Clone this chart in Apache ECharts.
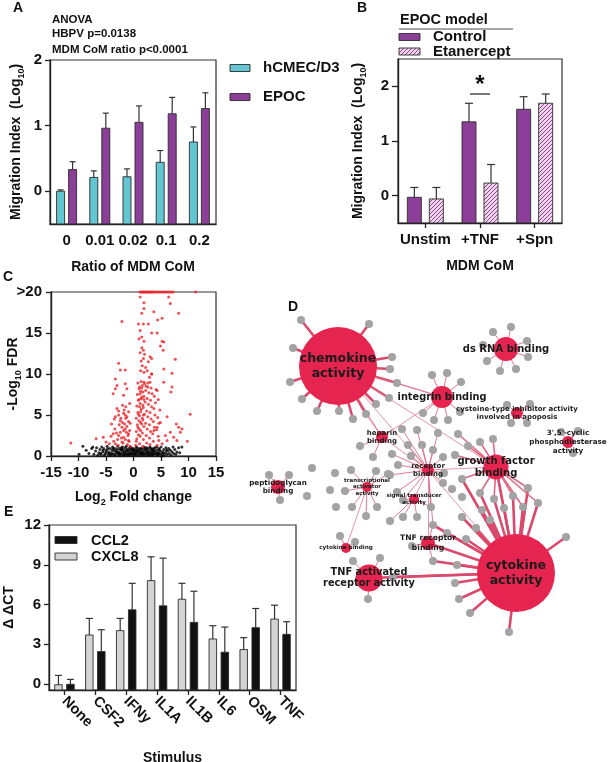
<!DOCTYPE html>
<html><head><meta charset="utf-8">
<script src="https://cdn.jsdelivr.net/npm/echarts@6/dist/echarts.min.js"></script>
<style>html,body{margin:0;padding:0;background:#fff}#c{width:610px;height:762px}</style>
</head><body><div id="c"></div><script>
// ---------- Panel A ----------
const catsA = ['0', '0.01', '0.02', '0.1', '0.2'];
const hcmecVals = [0.0, 0.21, 0.22, 0.44, 0.75];
const hcmecErr = [0.02, 0.10, 0.12, 0.18, 0.23];
const epocVals = [0.33, 0.96, 1.05, 1.18, 1.26];
const epocErr = [0.12, 0.23, 0.25, 0.25, 0.24];
// ---------- Panel B ----------
const catsB = ['Unstim', '+TNF', '+Spn'];
const ctrlVals = [-0.03, 1.35, 1.58];
const ctrlErr = [0.18, 0.34, 0.23];
const etaVals = [-0.06, 0.23, 1.69];
const etaErr = [0.21, 0.34, 0.17];
// ---------- Panel C (volcano) ----------
const redPts = [
[1.2,20],[1.4,20],[1.6,20],[1.8,20],[2.0,20],[2.2,20],[2.4,20],[2.6,20],[2.8,20],[3.0,20],[3.2,20],[3.4,20],[3.6,20],[3.9,20],[4.2,20],[4.5,20],[4.8,20],[5.1,20],[5.4,20],[5.7,20],[6.0,20],[6.3,20],[6.6,20],[6.9,20],[7.2,20],[11.3,20],
[1.2,19.4],[1.9,18.7],[1.9,18.0],[1.5,17.4],[3.7,17.6],[6.4,19.4],[6.7,18.6],[8.2,17.4],[-2.1,16.4],[0.9,16.1],[1.8,16.1],[2.7,16.1],[4.4,16.6],[5.2,16.8],[3.3,15.0],[4.3,15.0],[1.2,15.3],[1.5,14.5],[5.2,14.0],[5.5,13.9],[4.9,13.4],[5.4,12.9],[1.8,12.9],[3.0,12.1],[3.3,11.9],[7.6,11.8],[-2.7,11.3],[-2.4,10.5],[-1.5,10.5],[-3.3,9.4],[-3.0,8.6],[-3.3,8.2],[-3.7,7.6],[-1.5,8.8],[-1.2,8.2],[-1.8,7.4],[5.5,10.6],[7.0,10.1],[7.0,8.4],[6.8,7.8],[5.5,9.0],[4.3,8.0],[3.3,10.0],
[-3.0,5.8],[-2.7,5.5],[-1.8,5.2],[-1.5,5.0],[-1.2,4.8],[-3.3,4.8],[-2.4,4.3],[-4.0,3.9],[-2.1,3.5],[-1.5,3.3],[-3.7,2.7],[-2.7,2.5],[-1.8,2.3],[-0.9,2.7],[-5.5,2.3],[-6.8,2.1],[-11.4,1.6],[-0.9,1.9],[-2.1,1.7],[-3.3,1.5],[-0.6,4.0],[-0.9,5.4],[-0.7,6.4],
[-0.6,1.2],[-0.8,1.8],[-1.0,2.5],[-0.7,3.1],[-1.2,3.6],[-0.9,4.2],[-1.4,4.6],[-1.1,1.4],[-1.5,2.0],[-1.3,2.9],[-1.8,3.1],[-1.6,3.9],[-2.0,4.1],[-1.9,1.6],[-2.2,2.2],[-2.4,2.9],[-2.6,3.8],[-2.3,4.6],[-2.8,1.3],[-2.9,2.0],[-3.1,2.8],[-2.7,5.0],[-3.4,3.3],[-3.6,1.8],[-1.7,5.6],[-2.0,6.2],[-1.4,6.0],[-3.5,4.5],[-4.1,2.4],[-4.4,1.5],[-5.0,1.7],
[6.1,4.8],[7.8,3.9],[8.2,3.5],[8.5,2.9],[8.8,3.3],[6.7,2.9],[5.8,2.5],[7.3,2.3],[7.9,1.9],[9.8,1.8],[10.3,5.1],[4.9,4.1],[4.3,3.5],[3.7,3.1],[6.1,1.9],[5.2,1.5],[4.6,1.9],
[0.4,1.3],[0.6,2.1],[0.5,3.0],[0.7,3.8],[0.5,4.6],[0.8,5.3],[0.6,6.1],[0.9,6.8],[0.7,7.5],[1.0,8.2],[0.8,8.9],
[1.1,1.5],[1.2,2.4],[1.0,3.3],[1.3,4.1],[1.1,4.9],[1.4,5.7],[1.2,6.4],[1.5,7.2],[1.3,7.9],[1.6,8.6],[1.4,9.1],
[1.7,1.2],[1.8,2.0],[1.6,2.8],[1.9,3.6],[1.7,4.4],[2.0,5.1],[1.8,5.9],[2.1,6.6],[1.9,7.3],[2.2,8.0],[2.0,8.8],
[2.4,1.6],[2.3,2.5],[2.5,3.3],[2.2,4.0],[2.6,4.8],[2.4,5.5],[2.7,6.3],[2.5,7.0],[2.8,7.7],[2.6,8.4],
[3.0,1.4],[2.9,2.2],[3.1,3.0],[2.9,3.8],[3.2,4.5],[3.0,5.3],[3.3,6.0],[3.1,6.8],[3.4,7.6],[3.2,8.3],
[3.6,1.8],[3.5,2.7],[3.8,3.5],[3.6,4.2],[3.9,5.0],[3.7,5.8],[4.0,6.5],[3.8,7.3],[4.1,8.1],
[4.3,1.3],[4.5,2.4],[4.2,3.2],[4.6,4.0],[4.4,4.7],[4.8,5.6],[4.5,6.9],
[0.5,1.8],[0.9,2.6],[1.3,3.1],[0.8,3.5],[1.5,3.9],[1.0,4.3],[1.6,4.6],[0.9,5.1],[1.3,5.4],[1.8,5.0],[1.1,6.0],[1.7,6.2],[1.0,6.9],[1.4,7.0],[1.9,6.9],[1.2,7.6],[1.7,7.8],[1.1,8.4],[1.5,8.3],[2.3,8.5],[1.9,9.0],[2.6,8.9],[3.0,9.0],
[1.3,10.4],[1.6,11.0],[1.4,11.6],[1.9,10.2],[2.2,10.8],[1.8,11.9],[2.5,10.4],[2.9,9.6],[3.3,10.0],[1.2,12.6],[1.5,13.2],[2.0,12.4],[2.7,11.5],[1.0,14.3],[1.9,14.0]
];
const blackPts = [
[-9.9,0.2],[-9.2,1.2],[-8.6,0.7],[-8.1,0.3],[-7.6,0.9],[-7.4,1.1],[-7.2,0.2],[-6.9,0.6],[-6.7,1.0],[-6.5,0.1],[-6.3,0.4],[-6.1,0.8],[-5.9,0.2],[-5.8,1.1],[-5.6,0.5],[-5.4,0.9],[-5.3,0.1],[-5.1,0.3],[-4.9,0.7],[-4.8,1.2],[-4.6,0.2],[-4.5,0.5],[-4.3,0.9],[-4.2,0.1],[-4.0,0.4],[-3.9,0.7],[-3.8,1.1],[-3.6,0.2],[-3.5,0.6],[-3.4,0.9],[-3.3,0.1],[-3.2,0.4],[-3.0,0.8],[-2.9,1.2],[-2.8,0.2],[-2.7,0.5],[-2.6,0.9],[-2.5,0.1],[-2.4,0.3],[-2.3,0.7],[-2.2,1.0],[-2.1,0.2],[-2.0,0.5],[-1.9,0.8],[-1.8,0.1],[-1.7,0.4],[-1.6,0.6],[-1.5,1.0],[-1.4,0.2],[-1.3,0.5],[-1.2,0.8],[-1.1,0.1],[-1.0,0.3],[-0.9,0.6],[-0.8,0.9],[-0.7,0.2],[-0.6,0.4],[-0.5,0.7],[-0.4,1.0],[-0.3,0.1],[-0.2,0.3],[-0.1,0.6],[0.0,0.9],[0.1,0.2],[0.2,0.5],[0.3,0.8],[0.4,0.1],[0.5,0.4],[0.6,0.7],[0.7,1.0],[0.8,0.2],[0.9,0.5],[1.0,0.8],[1.1,0.1],[1.2,0.4],[1.3,0.6],[1.4,0.9],[1.5,0.2],[1.6,0.5],[1.7,0.8],[1.8,0.1],[1.9,0.3],[2.0,0.6],[2.1,1.0],[2.2,0.2],[2.3,0.4],[2.4,0.7],[2.5,0.1],[2.6,0.5],[2.7,0.9],[2.8,0.3],[2.9,0.6],[3.0,1.1],[3.1,0.2],[3.2,0.4],[3.3,0.8],[3.4,0.1],[3.5,0.5],[3.6,0.9],[3.7,0.3],[3.8,0.6],[3.9,1.0],[4.0,0.2],[4.1,0.4],[4.2,0.7],[4.4,0.1],[4.5,0.5],[4.6,0.9],[4.8,0.3],[4.9,0.6],[5.0,1.1],[5.2,0.2],[5.3,0.5],[5.5,0.8],[5.6,0.1],[5.8,0.4],[5.9,1.0],[6.1,0.2],[6.2,0.6],[6.4,0.9],[6.5,0.3],[6.7,0.7],[6.8,0.1],[7.0,0.5],[7.2,1.1],[7.3,0.3],[7.5,0.8],[7.7,0.2],[7.9,0.5],[8.2,1.0],[8.4,0.4],[8.8,1.1],
[-3.1,0.6],[-2.6,0.3],[-2.2,0.8],[-1.6,0.2],[-1.1,0.7],[-0.6,1.1],[-0.2,0.8],[0.3,0.3],[0.7,0.6],[1.2,0.9],[1.7,0.3],[2.2,0.8],[2.7,0.4],[3.2,0.9],[3.7,0.7],[4.3,0.3],[4.7,0.8],[5.4,0.4],[6.0,0.7],[-4.4,0.3],[-3.7,0.9],[-5.0,0.5],[-5.5,0.7],[-6.0,0.3],[-0.9,0.2],[0.1,0.7],[1.9,1.1],[2.9,0.1],[3.6,0.2],[4.2,1.1],[5.1,0.0],[-1.3,1.2],[-0.4,0.4],[0.5,1.1],[1.4,0.3],[2.4,1.0],[3.4,0.6],[4.6,0.2],[-2.0,1.1],[-2.9,0.4],[-3.9,0.2],[-4.7,0.9]
];
// ---------- Panel D (network) ----------
const termNames = ['chemokine\nactivity','cytokine\nactivity','ds RNA binding','integrin binding','growth factor\nbinding',
 'cysteine-type inhibitor activity\ninvolved in apoposis',"3',5'-cyclic\nphosphodiesterase\nactivity",'heparin\nbinding','receptor\nbinding',
 'transcriptional\nactivator\nactivity','signal transducer\nactivity','peptidoglycan\nbinding','cytokine binding','TNF receptor\nbinding','TNF activated\nreceptor activity'];
const termX = [338,516,506,442,496,517,568,382,428,367,414,278,346,428,369];
const termY = [366,573,349,397,467,413,442,437,470,487,499,487,548,543,578];
const termSize = [78,78,24,22,25,12,12,12,12,10,10,14,10,14,27];
const termFont = [12.5,12.5,10,9.8,10,7,7.2,7,7,5.5,5.6,7.2,5.7,7.6,9.8];
const geneX = [369,392,390,397,389,376,366,353,339,317,302,290,293,301, 493,511,527,528,516,500,487,483, 432,447,461,423,434,448,460, 507,530,527,511, 578,573,561, 360,373, 480,493,468,458,455, 462,480,494,504,513,523,528,538, 482,462,490,476,466,457,455,459,470,509,566, 447,433,433,412, 392,398,408,417,402,390,397,403,431,443,444,411,422,433,443,438, 403,417,390, 351,376,352,366,345,377,388, 269,289,280, 312,307,335,330,336,452,462, 340,355, 353,380,368,393];
const geneY = [324,357,369,383,398,404,414,419,411,411,399,382,348,320, 332,327,341,357,369,371,361,345, 375,373,382,413,420,420,412, 405,404,423,423, 431,453,432, 446,457, 442,439,446,434,455, 479,493,499,508,496,507,488,503, 510,517,520,528,539,565,583,599,613,632,537, 533,525,561,546, 454,465,445,430,429,475,492,500,507,483,473,456,445,450,457,433, 517,517,521, 470,471,507,516,491,507,474, 475,475,500, 468,496,473,490,507,489,497, 536,542, 561,558,599,577];
const geneTerms = [[0],[0],[0],[0,3],[0],[0],[0,7],[0],[0],[0],[0],[0],[0],[0],
 [2],[2],[2],[2],[2],[2],[2],[2],
 [3],[3],[3],[3],[3],[3],[3],
 [5],[5],[5],[5],
 [6],[6],[6],
 [7],[7],
 [4],[4],[4],[4],[4],
 [4,1],[4,1],[4,1],[4,1],[4,1],[4,1],[4,1],[4,1],
 [1],[1],[1],[1],[1],[1],[1],[1],[1],[1],[1],
 [1,13],[1,13,8],[1,13],[13],
 [8],[8],[8],[8],[8],[8],[8],[8,10],[8,10],[8],[8],[8],[8],[8],[8],[8],
 [10],[10],[10],
 [9],[9],[9],[9],[9],[9],[9],
 [11],[11],[11],
 [],[],[],[],[],[],[],
 [12],[12],
 [14],[14],[14],[14,1]];
const termLinks = [[0,3],[0,4],[0,8],[0,7],[1,4],[1,8],[1,13],[1,14],[8,13],[8,7],[9,12],[7,3],[8,10],[8,4]];
// ---------- Panel E ----------
const catsE = ['None','CSF2','IFNy','IL1A','IL1B','IL6','OSM','TNF'];
const cxcl8Vals = [-0.05, 3.7, 4.03, 7.8, 6.4, 3.4, 2.6, 4.9];
const cxcl8Err = [0.7, 1.25, 0.92, 1.8, 1.2, 1.0, 0.9, 1.05];
const ccl2Vals = [-0.02, 2.45, 5.6, 5.9, 4.65, 2.4, 4.25, 3.75];
const ccl2Err = [0.37, 1.65, 2.0, 3.6, 2.35, 1.9, 1.45, 0.95];

// ---------- styles ----------
const F = 'Liberation Sans, Arial, sans-serif';
const DF = 'DejaVu Sans, Verdana, sans-serif';
const cyan = '#62c6d3', purple = '#8c3f98', lgray = '#d3d3d3';
const hc = document.createElement('canvas'); hc.width = 4; hc.height = 4;
const hg = hc.getContext('2d'); hg.fillStyle = '#f2d3ec'; hg.fillRect(0,0,4,4);
hg.strokeStyle = '#7a3a84'; hg.lineWidth = 0.9; hg.beginPath();
hg.moveTo(0,4); hg.lineTo(4,0); hg.moveTo(-1,1); hg.lineTo(1,-1); hg.moveTo(3,5); hg.lineTo(5,3); hg.stroke();
const hatch = {image: hc, repeat: 'repeat'};

function barSeries(gi, vals, errs, off, w, fill, base, capW) {
  return {
    type: 'custom', xAxisIndex: gi, yAxisIndex: gi, clip: false,
    data: vals.map((v, i) => [i, v, errs[i]]),
    encode: {x: 0, y: 1},
    renderItem: (p, api) => {
      const i = api.value(0), v = api.value(1), e = api.value(2);
      const c = api.coord([i, v]), b = api.coord([i, base]), t = api.coord([i, v + e]);
      const cx = c[0] + off;
      return {type: 'group', children: [
        {type: 'rect', shape: {x: cx - w / 2, y: c[1], width: w, height: b[1] - c[1]}, style: {fill: fill, stroke: '#2b2b2b', lineWidth: 0.9}},
        {type: 'line', shape: {x1: cx, y1: c[1], x2: cx, y2: t[1]}, style: {stroke: '#333', lineWidth: 1.2}},
        {type: 'line', shape: {x1: cx - capW / 2, y1: t[1], x2: cx + capW / 2, y2: t[1]}, style: {stroke: '#333', lineWidth: 1.2}}
      ]};
    }
  };
}
const lab = (sz, m) => ({color: '#111', fontWeight: 'bold', fontFamily: F, fontSize: sz, margin: m, interval: 0, hideOverlap: false});
const line = {show: true, onZero: false, lineStyle: {color: '#222', width: 1.4}};
const nameStyle = {color: '#111', fontWeight: 'bold', fontFamily: F, fontSize: 14, lineHeight: 20,
  rich: {s: {fontSize: 9, fontWeight: 'bold', fontFamily: F, color: '#111', verticalAlign: 'bottom', lineHeight: 10}}};
const gridBase = {show: true, borderColor: '#333', borderWidth: 1.2, containLabel: false, outerBoundsMode: 'none'};
const nm = (name, gap, rot) => Object.assign({name: name, nameLocation: 'middle', nameGap: gap, nameMoveOverlap: false, nameTextStyle: nameStyle}, rot ? {nameRotate: 90} : {});

// network nodes/links
const nodes = [], links = [];
geneX.forEach((x, i) => nodes.push({name: 'g' + i, value: [x, geneY[i]], symbolSize: 8, itemStyle: {color: '#a3a3a3'}, label: {show: false}}));
termNames.forEach((n, i) => nodes.push({name: 't' + i, value: [termX[i], termY[i]], symbolSize: termSize[i], itemStyle: {color: '#e5244f'},
  label: {show: true, position: 'inside', formatter: n, fontFamily: DF, fontWeight: 'bold', fontSize: termFont[i], color: '#1a1a1a', lineHeight: termFont[i] * 1.2}}));
geneTerms.forEach((ts, i) => ts.forEach(t => {
  const w = (t === 0 || t === 1) ? 2.6 : (t === 4 ? 1.6 : 0.9);
  links.push({source: 'g' + i, target: 't' + t, lineStyle: {width: w, color: w > 2 ? '#d94a6c' : '#e06a86'}});
}));
termLinks.forEach(([a, b]) => {
  const thick = (a === 1 && (b === 4 || b === 13 || b === 14));
  links.push({source: 't' + a, target: 't' + b, lineStyle: {width: thick ? 2.6 : 0.8, color: thick ? '#d94a6c' : '#e07a92'}});
});

const tk = (len) => ({show: true, length: len, lineStyle: {color: '#222', width: 1.3}});
const option = {
  animation: false,
  backgroundColor: '#fff',
  grid: [
    Object.assign({left: 50, top: 60, width: 166, height: 164}, gridBase),
    Object.assign({left: 398, top: 59, width: 164, height: 164}, gridBase),
    Object.assign({left: 51, top: 292, width: 165, height: 164}, gridBase),
    {left: 230, top: 290, width: 380, height: 370, show: false, containLabel: false, outerBoundsMode: 'none'},
    Object.assign({left: 49, top: 525, width: 247, height: 165}, gridBase)
  ],
  xAxis: [
    Object.assign({gridIndex: 0, type: 'category', data: catsA, axisLine: line, axisTick: {show: false}, axisLabel: lab(15, 9)}, nm('Ratio of MDM CoM', 33)),
    Object.assign({gridIndex: 1, type: 'category', data: catsB, axisLine: line, axisTick: Object.assign(tk(5), {alignWithLabel: true}), axisLabel: lab(15, 9)}, nm('MDM CoM', 33)),
    Object.assign({gridIndex: 2, type: 'value', min: -15, max: 15, interval: 5, axisLine: line, splitLine: {show: false}, axisTick: tk(5), axisLabel: lab(15, 9)}, nm('Log{s|2} Fold change', 31)),
    {gridIndex: 3, type: 'value', min: 230, max: 610, show: false},
    Object.assign({gridIndex: 4, type: 'category', data: catsE, axisLine: line, axisTick: Object.assign(tk(5), {alignWithLabel: true}),
     axisLabel: Object.assign(lab(14.5, 9), {rotate: -45})}, nm('Stimulus', 58))
  ],
  yAxis: [
    Object.assign({gridIndex: 0, type: 'value', min: -0.5, max: 2, axisLine: line, splitLine: {show: false},
     axisTick: Object.assign(tk(5), {customValues: [0, 1, 2]}), axisLabel: Object.assign(lab(15, 8), {customValues: [0, 1, 2]})},
     nm('Migration Index  (Log{s|10})', 24, true)),
    Object.assign({gridIndex: 1, type: 'value', min: -0.5, max: 2.5, axisLine: line, splitLine: {show: false},
     axisTick: Object.assign(tk(6), {customValues: [0, 1, 2]}), axisLabel: Object.assign(lab(15, 9), {customValues: [0, 1, 2]})},
     nm('Migration Index  (Log{s|10})', 30, true)),
    Object.assign({gridIndex: 2, type: 'value', min: 0, max: 20, interval: 5, axisLine: line, splitLine: {show: false},
     axisTick: tk(5), axisLabel: Object.assign(lab(15, 9), {formatter: v => v === 20 ? '>20' : String(v)})},
     nm('-Log{s|10} FDR', 28, true)),
    {gridIndex: 3, type: 'value', min: 290, max: 660, inverse: true, show: false},
    Object.assign({gridIndex: 4, type: 'value', min: -0.45, max: 12, axisLine: line, splitLine: {show: false},
     axisTick: Object.assign(tk(5), {customValues: [0, 3, 6, 9, 12]}), axisLabel: Object.assign(lab(15, 8), {customValues: [0, 3, 6, 9, 12]})},
     nm('Δ ΔCT', 30, true))
  ],
  series: [
    barSeries(0, hcmecVals, hcmecErr, -6, 8, cyan, -0.5, 6),
    barSeries(0, epocVals, epocErr, 6, 8, purple, -0.5, 6),
    barSeries(1, ctrlVals, ctrlErr, -11, 14, purple, -0.5, 8),
    barSeries(1, etaVals, etaErr, 11, 14, hatch, -0.5, 8),
    {type: 'scatter', xAxisIndex: 2, yAxisIndex: 2, data: blackPts, symbolSize: 3, itemStyle: {color: '#000'}, clip: false},
    {type: 'scatter', xAxisIndex: 2, yAxisIndex: 2, data: redPts, symbolSize: 3, itemStyle: {color: '#e8242b'}, clip: false},
    {type: 'graph', coordinateSystem: 'cartesian2d', xAxisIndex: 3, yAxisIndex: 3, data: nodes, links: links,
     edgeSymbol: ['none', 'none'], lineStyle: {opacity: 1, curveness: 0}, emphasis: {disabled: true}, silent: true},
    barSeries(4, cxcl8Vals, cxcl8Err, -6, 7.5, lgray, -0.45, 7),
    barSeries(4, ccl2Vals, ccl2Err, 6, 7.5, '#111', -0.45, 7)
  ]
};
const chart = echarts.init(document.getElementById('c'));
chart.setOption(option);

const star = chart.convertToPixel({gridIndex: 1}, [1, 2.02]);
const sigL = chart.convertToPixel({gridIndex: 1}, [1, 1.86]);
const T = (x, y, s, sz, extra) => ({type: 'text', x: x, y: y, style: Object.assign({text: s, fill: '#111', font: 'bold ' + sz + 'px ' + F, textVerticalAlign: 'middle'}, extra || {})});
const R = (x, y, w, h, fill) => ({type: 'rect', shape: {x: x, y: y, width: w, height: h}, style: {fill: fill, stroke: '#2b2b2b', lineWidth: 0.9}});
chart.setOption({graphic: [
  T(13, 8, 'A', 14), T(357, 8, 'B', 14), T(3, 277, 'C', 14), T(288, 307, 'D', 14), T(4, 512, 'E', 14),
  T(52, 20, 'ANOVA', 11.5), T(52, 34, 'HBPV p=0.0138', 11.5), T(52, 50, 'MDM CoM ratio p<0.0001', 11.5),
  R(230, 64.5, 20, 7, cyan), T(263, 68, 'hCMEC/D3', 15), R(230, 93.5, 20, 7, purple), T(263, 97, 'EPOC', 15),
  T(400, 19.5, 'EPOC model', 14.5),
  {type: 'line', shape: {x1: 399, y1: 29, x2: 513, y2: 29}, style: {stroke: '#888', lineWidth: 1.5}},
  R(399, 33.5, 21, 7, purple), T(433, 37, 'Control', 15), R(399, 48, 21, 7, hatch), T(433, 52, 'Etanercept', 15),
  T(star[0], star[1], '*', 24, {textAlign: 'center'}),
  {type: 'line', shape: {x1: sigL[0] - 10, y1: sigL[1], x2: sigL[0] + 10, y2: sigL[1]}, style: {stroke: '#333', lineWidth: 1.3}},
  R(55, 536.5, 22, 7, '#111'), T(91, 541, 'CCL2', 14.5), R(55, 553, 22, 7, lgray), T(91, 556.5, 'CXCL8', 14.5)
]});
</script></body></html>
